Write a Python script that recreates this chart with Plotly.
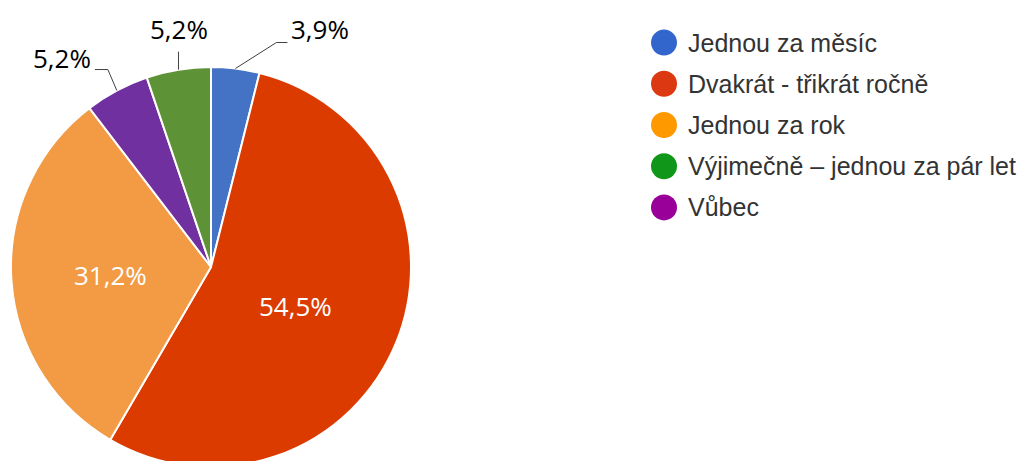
import math
import plotly.graph_objects as go

# ---------------- data ----------------
categories = ["Jednou za měsíc", "Dvakrát - třikrát ročně", "Jednou za rok",
              "Výjimečně – jednou za pár let", "Vůbec"]
values = [3.9, 54.5, 31.2, 5.2, 5.2]
pie_order = [0, 1, 2, 4, 3]          # clockwise order of slices from 12 o'clock
label_texts = ["3,9%", "54,5%", "31,2%", "5,2%", "5,2%"]

# ---------------- style ----------------
slice_colors = ["#4472c4", "#dc3b00", "#f29a44", "#5d9237", "#7030a0"]
legend_colors = ["#3366cc", "#dc3912", "#ff9900", "#109618", "#990099"]

W, H = 1032, 470
CX, CY, R = 211, 267, 200            # pie centre / radius in pixels

label_style = {
    0: dict(kind="out", path="M 0 0 L 41 26 L 52 26", xshift=54, yshift=39, xanchor="left"),
    1: dict(kind="in", frac=0.465, xshift=-2, yshift=-4),
    2: dict(kind="in", frac=0.505, xshift=0, yshift=-2),
    3: dict(kind="out", path="M 0 0 L 0 18", xshift=1, yshift=41, xanchor="center"),
    4: dict(kind="out", path="M 0 0 L -9 21 L -22 21", xshift=-24, yshift=33, xanchor="right"),
}

label_font = dict(family="Open Sans", size=26)

fig = go.Figure()

fig.add_trace(go.Pie(
    labels=[categories[i] for i in pie_order],
    values=[values[i] for i in pie_order],
    marker=dict(colors=[slice_colors[i] for i in pie_order],
                line=dict(color="white", width=2)),
    sort=False, direction="clockwise", rotation=0,
    textinfo="none", hoverinfo="skip", showlegend=False,
    domain=dict(x=[(CX - R) / W, (CX + R) / W], y=[1 - (CY + R) / H, 1 - (CY - R) / H]),
))

total = sum(values)
annotations = []
shapes = []
cum = 0.0
for i in pie_order:
    ang = (cum + values[i] / 2) / total * 2 * math.pi
    cum += values[i]
    st = label_style[i]
    if st["kind"] == "in":
        px = CX + st["frac"] * R * math.sin(ang)
        py = CY - st["frac"] * R * math.cos(ang)
        annotations.append(dict(x=px / W, y=1 - py / H, xref="paper", yref="paper",
                                text=label_texts[i], showarrow=False,
                                xanchor="center", yanchor="middle",
                                xshift=st["xshift"], yshift=st["yshift"],
                                font=dict(color="white", **label_font)))
    else:
        px = CX + R * math.sin(ang)
        py = CY - R * math.cos(ang)
        xa, ya = px / W, 1 - py / H
        shapes.append(dict(type="path", xref="paper", yref="paper",
                           xsizemode="pixel", ysizemode="pixel",
                           xanchor=xa, yanchor=ya, path=st["path"],
                           line=dict(color="#404040", width=1)))
        annotations.append(dict(x=xa, y=ya, xref="paper", yref="paper",
                                text=label_texts[i], showarrow=False,
                                xanchor=st["xanchor"], yanchor="middle",
                                xshift=st["xshift"], yshift=st["yshift"],
                                font=dict(color="black", **label_font)))

# custom legend with round markers
idx = list(range(len(categories)))
fig.add_trace(go.Scatter(
    x=[0] * len(categories), y=idx, mode="markers",
    marker=dict(size=26, color=legend_colors, line=dict(width=0)),
    hoverinfo="skip", showlegend=False, xaxis="x", yaxis="y",
))
for i in idx:
    annotations.append(dict(x=22, y=i, xref="x", yref="y", text=categories[i],
                            showarrow=False, xanchor="left", yanchor="middle",
                            font=dict(family="Liberation Sans, Arial", size=25, color="#333333")))

fig.update_layout(
    width=W, height=H,
    margin=dict(l=0, r=0, t=0, b=0),
    paper_bgcolor="white", plot_bgcolor="rgba(0,0,0,0)",
    xaxis=dict(domain=[650 / W, 1], range=[-14, 368], visible=False, fixedrange=True),
    yaxis=dict(domain=[1 - 228 / H, 1 - 22 / H], range=[4.5, -0.5], visible=False, fixedrange=True),
    annotations=annotations,
    shapes=shapes,
)

fig.write_html("out.html", config={"displayModeBar": False},
               post_script="document.body.style.margin='0';document.body.style.overflow='hidden';")
